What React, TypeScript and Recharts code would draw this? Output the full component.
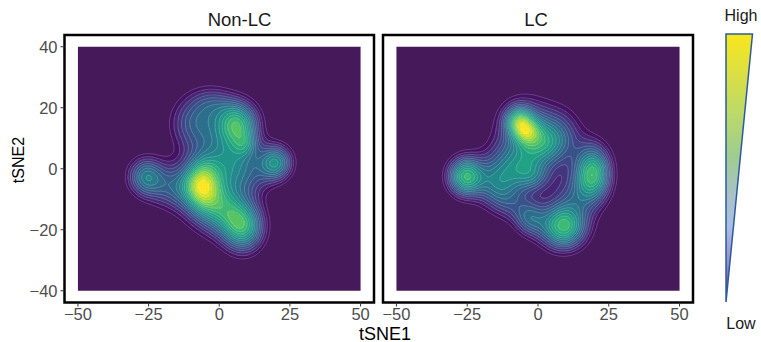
import React from "react";
import { ReferenceArea, Scatter, ScatterChart, XAxis, YAxis } from "recharts";

// density peaks (tSNE units): centre, spread, weight
const nonLcX = [-6, -5, 6.5, 9.5, 20, -26, 8.5, -8, 4, 1, -16, -2, 11];
const nonLcY = [-5, -7, 15, 8, 2, -2.5, -19, 15, 3, -13, -6, 22, -3];
const nonLcSx = [4.2, 7, 5.2, 3, 4.2, 4.5, 5.2, 6.5, 6.5, 5.8, 6.5, 5.2, 5.2];
const nonLcSy = [5.8, 8.5, 5.2, 3, 4.2, 4.5, 5.8, 6.5, 6.5, 5.8, 5.2, 3.9, 5.2];
const nonLcW = [0.47, 0.25, 0.56, 0.18, 0.47, 0.38, 0.56, 0.32, 0.35, 0.34, 0.26, 0.15, 0.15];

const lcX = [-7, -4, -4, 2, 9, -25.5, -14, -10, 19.5, 9, -3, 13, -4, -9, 0, -1];
const lcY = [16, 12.5, 13, 8, 11, -2.5, -5.5, 2, -1.5, -19, -16.5, -9, -1, -12, -4, -3];
const lcSx = [3.2, 3.2, 7.5, 5.2, 5.2, 4.5, 5.2, 6.5, 4.5, 5.8, 3.9, 5.2, 4.5, 5.2, 12, 4];
const lcSy = [3.2, 3.2, 7.5, 5.2, 6.5, 4.5, 5.2, 5.2, 6.5, 5.2, 3.9, 5.2, 4.5, 3.9, 10, 3];
const lcW = [0.32, 0.3, 0.3, 0.26, 0.18, 0.55, 0.3, 0.2, 0.57, 0.57, 0.25, 0.15, 0.15, 0.12, 0.06, 0.12];

const panelTitles = ["Non-LC", "LC"];
const xTicks = [-50, -25, 0, 25, 50];
const yTicks = [-40, -20, 0, 20, 40];
const gridX = [-50, 50];
const gridY = [-40, 40];

const LEVELS = 20;
const V0 = 0.12; // lowest drawn contour, as a share of the panel maximum
const STEP = 0.5;
const X_DOMAIN = [-54.75, 54.75];
const Y_DOMAIN = [-43.85, 43.85];
const PLOT_W = 309.5;
const PLOT_H = 267.5;
const CW = (STEP * PLOT_W) / (X_DOMAIN[1] - X_DOMAIN[0]);
const CH = (STEP * PLOT_H) / (Y_DOMAIN[1] - Y_DOMAIN[0]);

const FONT = "'Liberation Sans', Arial, sans-serif";

const viridis = [
  "#440154", "#482475", "#414487", "#355f8d", "#2a788e",
  "#21918c", "#22a884", "#44bf70", "#7ad151", "#bddf26", "#fde725",
];

function hex(c: string) {
  return [1, 3, 5].map((i) => parseInt(c.slice(i, i + 2), 16));
}

function viridisAt(t: number) {
  const p = Math.max(0, Math.min(1, t)) * (viridis.length - 1);
  const i = Math.min(viridis.length - 2, Math.floor(p));
  const a = hex(viridis[i]);
  const b = hex(viridis[i + 1]);
  const f = p - i;
  const rgb = a.map((v, k) => Math.round(v + (b[k] - v) * f));
  return `rgb(${rgb.join(",")})`;
}

const bandColors = Array.from({ length: LEVELS }, (_, k) => viridisAt(k / (LEVELS - 1)));

type Cell = { x: number; y: number; band: number; segs: number[][] };

function buildCells(
  cx: number[], cy: number[], sx: number[], sy: number[], w: number[],
) {
  const nx = Math.round((gridX[1] - gridX[0]) / STEP);
  const ny = Math.round((gridY[1] - gridY[0]) / STEP);
  const z: number[][] = [];
  let max = 0;
  for (let i = 0; i <= nx; i++) {
    const col: number[] = [];
    const x = gridX[0] + i * STEP;
    for (let j = 0; j <= ny; j++) {
      const y = gridY[0] + j * STEP;
      let v = 0;
      for (let k = 0; k < cx.length; k++) {
        const dx = (x - cx[k]) / sx[k];
        const dy = (y - cy[k]) / sy[k];
        v += w[k] * Math.exp(-0.5 * (dx * dx + dy * dy));
      }
      col.push(v);
      if (v > max) max = v;
    }
    z.push(col);
  }
  // level index: 1 at V0, LEVELS at the maximum
  const lvl = (v: number) => ((v / max - V0) / (1 - V0)) * (LEVELS - 1) + 1;
  const fills: Cell[] = [];
  const lines: Cell[] = [];
  // corner positions in cell fractions (x right, y down): bl, br, tr, tl
  const pos = [[-0.5, 0.5], [0.5, 0.5], [0.5, -0.5], [-0.5, -0.5]];
  for (let i = 0; i < nx; i++) {
    for (let j = 0; j < ny; j++) {
      const c = [z[i][j], z[i + 1][j], z[i + 1][j + 1], z[i][j + 1]].map(lvl);
      const hi = Math.max(...c);
      if (hi < 1) continue;
      const lo = Math.min(...c);
      const mid = (c[0] + c[1] + c[2] + c[3]) / 4;
      const band = Math.max(0, Math.min(LEVELS - 1, Math.floor(mid)));
      const cell = { x: gridX[0] + (i + 0.5) * STEP, y: gridY[0] + (j + 0.5) * STEP, band, segs: [] as number[][] };
      if (band >= 1) fills.push(cell);
      for (let L = Math.max(1, Math.ceil(lo)); L <= Math.floor(hi) && L < LEVELS; L++) {
        const pts: number[][] = [];
        for (let e = 0; e < 4; e++) {
          const a = c[e];
          const b = c[(e + 1) % 4];
          if ((a < L) !== (b < L)) {
            const f = (L - a) / (b - a);
            const pa = pos[e];
            const pb = pos[(e + 1) % 4];
            pts.push([pa[0] + (pb[0] - pa[0]) * f, pa[1] + (pb[1] - pa[1]) * f]);
          }
        }
        if (pts.length === 2) cell.segs.push([...pts[0], ...pts[1]]);
        if (pts.length === 4) {
          cell.segs.push([...pts[0], ...pts[1]]);
          cell.segs.push([...pts[2], ...pts[3]]);
        }
      }
      if (cell.segs.length) lines.push(cell);
    }
  }
  return { fills, lines };
}

const panels = [
  buildCells(nonLcX, nonLcY, nonLcSx, nonLcSy, nonLcW),
  buildCells(lcX, lcY, lcSx, lcSy, lcW),
];

const fillShape = (p: any) => (
  <rect
    x={p.cx - CW / 2 - 0.3}
    y={p.cy - CH / 2 - 0.3}
    width={CW + 0.6}
    height={CH + 0.6}
    fill={bandColors[p.payload.band]}
  />
);

const lineShape = (p: any) => {
  const d = p.payload.segs
    .map((s: number[]) =>
      `M${(p.cx + s[0] * CW).toFixed(2)},${(p.cy + s[1] * CH).toFixed(2)}L${(p.cx + s[2] * CW).toFixed(2)},${(p.cy + s[3] * CH).toFixed(2)}`)
    .join("");
  return <path d={d} stroke="#ffffff" strokeOpacity={0.35} strokeWidth={0.55} fill="none" />;
};

const minus = (v: number) => String(v).replace("-", "\u2212");
const tickStyle = { fill: "#4d4d4d", fontSize: 16.5, fontFamily: FONT };

function Panel({ index }: { index: number }) {
  const { fills, lines } = panels[index];
  const first = index === 0;
  return (
    <ScatterChart
      width={first ? 380 : 324}
      height={342}
      margin={{ top: 35, right: first ? 6 : 7, bottom: 9.5, left: first ? 24.5 : 7 }}
    >
      <XAxis
        type="number"
        dataKey="x"
        domain={X_DOMAIN}
        ticks={xTicks}
        allowDataOverflow
        axisLine={false}
        tickLine={{ stroke: "#333333" }}
        tickSize={4}
        tickMargin={2}
        height={30}
        tick={tickStyle}
        tickFormatter={minus}
      />
      <YAxis
        type="number"
        dataKey="y"
        domain={Y_DOMAIN}
        ticks={yTicks}
        allowDataOverflow
        hide={!first}
        axisLine={false}
        tickLine={{ stroke: "#333333" }}
        tickSize={4}
        tickMargin={3}
        width={40}
        tick={tickStyle}
        tickFormatter={minus}
      />
      <ReferenceArea x1={gridX[0]} x2={gridX[1]} y1={gridY[0]} y2={gridY[1]} fill="#46195a" fillOpacity={1} stroke="none" />
      <Scatter data={fills} shape={fillShape} isAnimationActive={false} />
      <Scatter data={lines} shape={lineShape} isAnimationActive={false} />
      <ReferenceArea
        x1={X_DOMAIN[0]}
        x2={X_DOMAIN[1]}
        y1={Y_DOMAIN[0]}
        y2={Y_DOMAIN[1]}
        fill="none"
        stroke="#000000"
        strokeWidth={2.5}
      />
    </ScatterChart>
  );
}

export default function App() {
  return (
    <div style={{ position: "fixed", left: 0, top: 0, width: 761, height: 342, background: "#ffffff", fontFamily: FONT }}>
      <div style={{ position: "absolute", left: 0, top: 0 }}>
        <Panel index={0} />
      </div>
      <div style={{ position: "absolute", left: 376, top: 0 }}>
        <Panel index={1} />
      </div>
      <svg width={761} height={342} style={{ position: "absolute", left: 0, top: 0, pointerEvents: "none" }}>
        <defs>
          <linearGradient id="legendGrad" x1="0" y1="0" x2="0" y2="1">
            <stop offset="0" stopColor="#f9e61c" />
            <stop offset="0.3" stopColor="#bcd96a" />
            <stop offset="0.45" stopColor="#9fcd8e" />
            <stop offset="0.6" stopColor="#a8c2c6" />
            <stop offset="0.72" stopColor="#aabfe4" />
            <stop offset="0.86" stopColor="#9a8ccb" />
            <stop offset="1" stopColor="#5c2a88" />
          </linearGradient>
        </defs>
        <text x={239.5} y={25.5} textAnchor="middle" fontSize={18.5} fill="#1a1a1a">{panelTitles[0]}</text>
        <text x={536} y={25.5} textAnchor="middle" fontSize={18.5} fill="#1a1a1a">{panelTitles[1]}</text>
        <text x={385} y={339.5} textAnchor="middle" fontSize={18} fill="#000000">tSNE1</text>
        <text transform="translate(24,160) rotate(-90)" textAnchor="middle" fontSize={16} fill="#000000">tSNE2</text>
        <polygon points="726,34 752.5,34 726,302" fill="url(#legendGrad)" stroke="#2b5b9e" strokeWidth={1.5} strokeLinejoin="miter" />
        <text x={741} y={21} textAnchor="middle" fontSize={16} fill="#1a1a1a">High</text>
        <text x={741} y={329} textAnchor="middle" fontSize={16} fill="#1a1a1a">Low</text>
      </svg>
    </div>
  );
}
